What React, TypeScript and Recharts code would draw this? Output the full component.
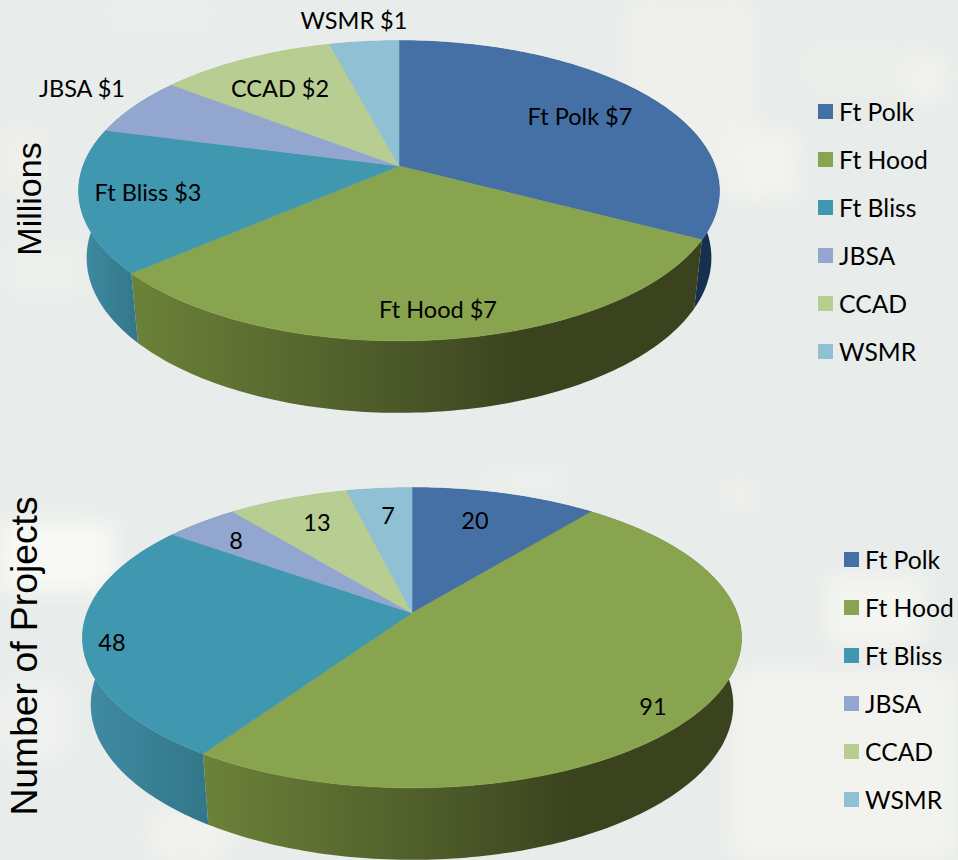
import { PieChart, Pie, Legend } from "recharts"

const SITES = ["Ft Polk", "Ft Hood", "Ft Bliss", "JBSA", "CCAD", "WSMR"]
const MILLIONS = [7.2, 6.8, 3.4, 1.4, 2.3, 0.9]
const PROJECTS = [20, 91, 48, 8, 13, 7]

const MILLION_LABELS = ["Ft Polk $7", "Ft Hood $7", "Ft Bliss $3", "JBSA $1", "CCAD $2", "WSMR $1"]
const PROJECT_LABELS = ["20", "91", "48", "8", "13", "7"]

const TOP_COLORS = ["#4470a5", "#88a44e", "#4097b0", "#92a6cf", "#b8cd92", "#8fc0d4"]
const WALL_COLORS = ["#17304f", "url(#wallHood)", "url(#wallBliss)", "#75859f", "#93a475", "#7299a9"]

// where each slice label sits inside its chart box
const MILLION_LABEL_AT = [[580, 116], [438, 309], [148, 192], [82, 88], [280, 88], [354, 20]]
const PROJECT_LABEL_AT = [[475, 90], [653, 276], [112, 212], [236, 110], [317, 92], [388, 85]]

// soft blotches of the slide background: x, y, w, h, colour
const PATCHES: [number, number, number, number, string][] = [
  [625, 0, 130, 190, "#eff0ec"],
  [730, 130, 70, 70, "#f2f3ee"],
  [800, 40, 150, 60, "#ebeeea"],
  [905, 60, 40, 40, "#f1f2ee"],
  [0, 125, 45, 70, "#efefeb"],
  [0, 240, 90, 60, "#ecefeb"],
  [100, 0, 120, 30, "#ebeeec"],
  [0, 522, 115, 70, "#f8f9f4"],
  [0, 680, 70, 80, "#eff1ee"],
  [730, 670, 228, 190, "#f2f3ee"],
  [825, 575, 100, 70, "#f4f5f0"],
  [480, 470, 90, 20, "#eff1ed"],
  [150, 810, 80, 50, "#f1f2ee"],
  [720, 480, 40, 30, "#eff0ec"],
]

const FONT = "Lato, sans-serif"
const TILT = 0.165
const SQUASH_X = 0.975
const WALL_DEPTH = 67
const WALL_STRETCH = 0.033
const ELLIPSE_DROP = 24 // the rim's middle sits this far under the pie centre
const STEPS_PER_DEG = 1

type Plane = { a: number; b: number }

function project(cx: number, cy: number, deg: number, plane: Plane) {
  const rad = (deg * Math.PI) / 180
  const u = Math.cos(rad)
  const v = -Math.sin(rad)
  const w = 1 - TILT * v
  return { x: cx + (plane.a * u) / w, y: cy + (plane.b * v) / w }
}

function arcPoints(cx: number, cy: number, from: number, to: number, plane: Plane) {
  const count = Math.max(2, Math.ceil(Math.abs(to - from) * STEPS_PER_DEG))
  return Array.from({ length: count + 1 }, (_, i) => project(cx, cy, from + ((to - from) * i) / count, plane))
}

function topShape(plane: Plane) {
  return (props: any) => {
    const { cx, cy, startAngle, endAngle, fill } = props
    const pts = arcPoints(cx, cy, startAngle, endAngle, plane)
    const d = `M${cx},${cy} ` + pts.map((p) => `L${p.x.toFixed(2)},${p.y.toFixed(2)}`).join(" ") + " Z"
    return <path d={d} fill={fill} stroke={fill} strokeWidth={0.6} />
  }
}

function wallShape(plane: Plane) {
  return (props: any) => {
    const { cx, cy, startAngle, endAngle, fill } = props
    const upper = arcPoints(cx, cy, startAngle, endAngle, plane)
    const lower = upper
      .map((p) => ({
        x: cx + (p.x - cx) * SQUASH_X,
        y: p.y + WALL_DEPTH + (p.y - cy - ELLIPSE_DROP) * WALL_STRETCH,
      }))
      .reverse()
    const d = [...upper, ...lower]
      .map((p, i) => `${i === 0 ? "M" : "L"}${p.x.toFixed(2)},${p.y.toFixed(2)}`)
      .join(" ")
    return <path d={d + " Z"} fill={fill} />
  }
}

function sliceLabel(positions: number[][], texts: string[]) {
  return (props: any) => {
    const [x, y] = positions[props.index]
    return (
      <text x={x} y={y} textAnchor="middle" dominantBaseline="central" fontFamily={FONT} fontSize={23.5} fill="#000">
        {texts[props.index]}
      </text>
    )
  }
}

function LegendList(props: any) {
  const items = (props.payload ?? []).filter((item: any) => item.type !== "none")
  return (
    <div style={{ fontFamily: FONT, fontSize: 24.7, color: "#000" }}>
      {items.map((item: any) => (
        <div key={item.value} style={{ height: 48, display: "flex", alignItems: "center", whiteSpace: "nowrap" }}>
          <span style={{ width: 15, height: 15, marginRight: 6, background: item.color }} />
          {item.value}
        </div>
      ))}
    </div>
  )
}

interface SlabProps {
  values: number[]
  labels: string[]
  labelAt: number[][]
  cx: number
  cy: number
  plane: Plane
  legendLeft: number
  legendTop: number
}

function Slab({ values, labels, labelAt, cx, cy, plane, legendLeft, legendTop }: SlabProps) {
  const tops = SITES.map((name, i) => ({ name, value: values[i], fill: TOP_COLORS[i] }))
  const walls = SITES.map((name, i) => ({ name, value: values[i], fill: WALL_COLORS[i] }))
  return (
    <PieChart width={958} height={430} margin={{ top: 0, right: 0, bottom: 0, left: 0 }} style={{ overflow: "visible" }}>
      <defs>
        <linearGradient id="wallHood" x1="0" y1="0" x2="1" y2="0">
          <stop offset="0" stopColor="#6c8239" />
          <stop offset="0.45" stopColor="#4c5a29" />
          <stop offset="0.7" stopColor="#3a421e" />
          <stop offset="1" stopColor="#3a421e" />
        </linearGradient>
        <linearGradient id="wallBliss" x1="0" y1="0" x2="1" y2="0">
          <stop offset="0" stopColor="#3f8ca4" />
          <stop offset="1" stopColor="#337688" />
        </linearGradient>
      </defs>
      <Pie
        data={walls}
        dataKey="value"
        nameKey="name"
        cx={cx}
        cy={cy}
        outerRadius={plane.a}
        startAngle={90}
        endAngle={-270}
        stroke="none"
        legendType="none"
        shape={wallShape(plane)}
        isAnimationActive={false}
      />
      <Pie
        data={tops}
        dataKey="value"
        nameKey="name"
        cx={cx}
        cy={cy}
        outerRadius={plane.a}
        startAngle={90}
        endAngle={-270}
        stroke="none"
        shape={topShape(plane)}
        label={sliceLabel(labelAt, labels)}
        labelLine={false}
        isAnimationActive={false}
      />
      <Legend
        layout="vertical"
        align="right"
        verticalAlign="top"
        itemSorter={null}
        content={LegendList}
        wrapperStyle={{ left: legendLeft, right: "auto", top: legendTop, width: 114 }}
      />
    </PieChart>
  )
}

function AxisTitle({ text, x, y, size }: { text: string; x: number; y: number; size: number }) {
  return (
    <div
      style={{
        position: "absolute",
        left: x,
        top: y,
        transform: "translate(-50%, -50%) rotate(-90deg)",
        fontFamily: "'Liberation Sans', Arial, sans-serif",
        fontSize: size,
        lineHeight: 1,
        whiteSpace: "nowrap",
        color: "#000",
      }}
    >
      {text}
    </div>
  )
}

export default function App() {
  return (
    <div style={{ position: "absolute", left: 0, top: 0, width: 958, height: 860, overflow: "hidden", background: "#e8ecea" }}>
      {PATCHES.map(([x, y, w, h, color], i) => (
        <div key={i} style={{ position: "absolute", left: x, top: y, width: w, height: h, background: color, filter: "blur(12px)" }} />
      ))}
      <div style={{ position: "absolute", left: 0, top: 0 }}>
        <Slab
          values={MILLIONS}
          labels={MILLION_LABELS}
          labelAt={MILLION_LABEL_AT}
          cx={399}
          cy={166}
          plane={{ a: 316, b: 146 }}
          legendLeft={818}
          legendTop={87}
        />
      </div>
      <div style={{ position: "absolute", left: 0, top: 430 }}>
        <Slab
          values={PROJECTS}
          labels={PROJECT_LABELS}
          labelAt={PROJECT_LABEL_AT}
          cx={412}
          cy={183}
          plane={{ a: 325, b: 146 }}
          legendLeft={844}
          legendTop={105}
        />
      </div>
      <AxisTitle text="Millions" x={29} y={199} size={34} />
      <AxisTitle text="Number of Projects" x={25} y={656} size={37.3} />
    </div>
  )
}
